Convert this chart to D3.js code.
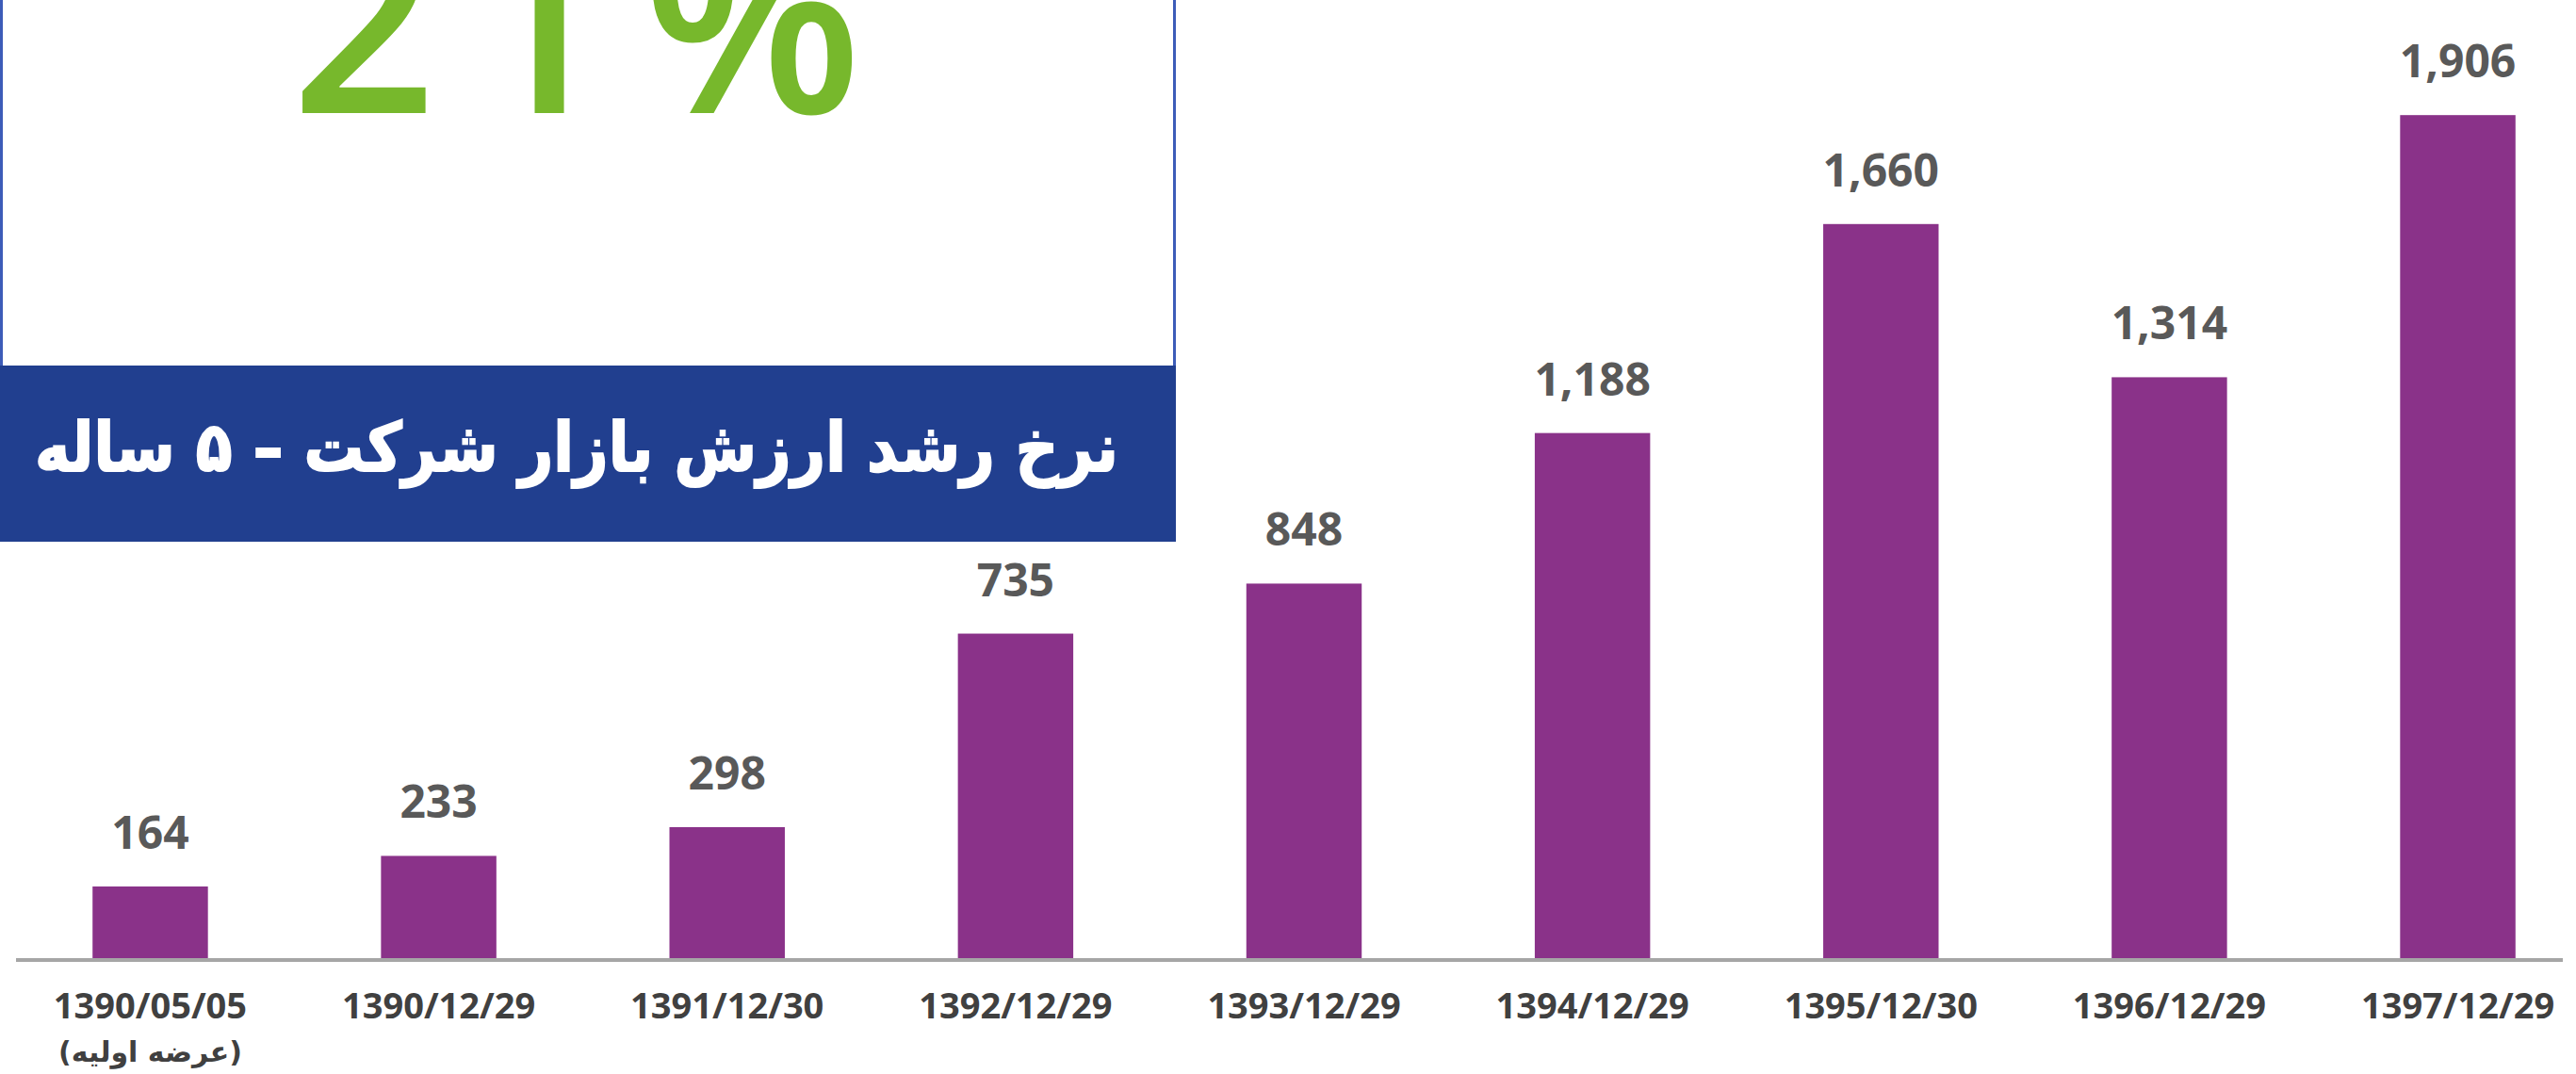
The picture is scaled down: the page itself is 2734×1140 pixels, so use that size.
<!DOCTYPE html>
<html>
<head>
<meta charset="utf-8">
<script src="https://cdn.jsdelivr.net/npm/d3@7"></script>
<style>
  body { margin: 0; background: #fff; }
  svg { display: block; }
</style>
</head>
<body>
<script>
// chart data
var dates = ["1390/05/05", "1390/12/29", "1391/12/30", "1392/12/29", "1393/12/29",
             "1394/12/29", "1395/12/30", "1396/12/29", "1397/12/29"];
var subLabels = ["(عرضه اولیه)", "", "", "", "", "", "", "", ""];
var marketValue = [164, 233, 298, 735, 848, 1188, 1660, 1314, 1906];
var growthRate = "21%";
var bannerTitle = "نرخ رشد ارزش بازار شرکت – ۵ ساله";

var width = 2734, height = 1140;

var svg = d3.select("body").append("svg")
    .attr("width", width)
    .attr("height", height);

var rows = dates.map(function(d, i) {
  return {date: d, sub: subLabels[i], value: marketValue[i]};
});

var x = d3.scaleBand()
    .domain(dates)
    .range([37, 2731])
    .paddingInner(0.6)
    .paddingOuter(0.2);

var y = d3.scaleLinear()
    .domain([0, 2000])
    .range([1018, 78]);

// bars
svg.selectAll("rect.bar")
   .data(rows)
   .enter()
   .append("rect")
   .attr("class", "bar")
   .attr("x", function(d) { return x(d.date); })
   .attr("y", function(d) { return y(d.value); })
   .attr("width", x.bandwidth())
   .attr("height", function(d) { return y(0) - y(d.value); })
   .attr("fill", "#8a3289");

// value labels
svg.selectAll("text.val")
   .data(rows)
   .enter()
   .append("text")
   .attr("class", "val")
   .attr("x", function(d) { return x(d.date) + x.bandwidth() / 2; })
   .attr("y", function(d) { return y(d.value) - 40; })
   .attr("text-anchor", "middle")
   .style("font-family", "'Open Sans', sans-serif")
   .style("font-weight", 700)
   .style("font-size", "48px")
   .style("fill", "#595959")
   .text(function(d) { return d3.format(",")(d.value); });

// x axis
var axis = svg.append("g")
    .attr("transform", "translate(0," + y(0) + ")")
    .call(d3.axisBottom(x).tickSize(0).tickPadding(36));

axis.select(".domain").remove();
axis.selectAll("text")
    .style("font-family", "'Open Sans', sans-serif")
    .style("font-weight", 700)
    .style("font-size", "38px")
    .style("fill", "#404040");

svg.append("line")
   .attr("x1", 17).attr("x2", 2720)
   .attr("y1", y(0) + 1).attr("y2", y(0) + 1)
   .attr("stroke", "#a6a6a6")
   .attr("stroke-width", 4);

svg.selectAll("text.sub")
   .data(rows.filter(function(d) { return d.sub; }))
   .enter()
   .append("text")
   .attr("class", "sub")
   .attr("x", function(d) { return x(d.date) + x.bandwidth() / 2; })
   .attr("y", 1127)
   .attr("text-anchor", "middle")
   .attr("direction", "rtl")
   .style("font-family", "'DejaVu Sans', sans-serif")
   .style("font-weight", 700)
   .style("font-size", "30px")
   .style("fill", "#404040")
   .text(function(d) { return d.sub; });

// growth box, top left
var box = svg.append("g");

box.append("rect")
   .attr("x", 1.5).attr("y", -10)
   .attr("width", 1245).attr("height", 400)
   .attr("fill", "#fff")
   .attr("stroke", "#3d5cb8")
   .attr("stroke-width", 3);

// the big figure runs off the top edge, as in the source picture
box.append("text")
   .attr("x", 628)
   .attr("y", 120)
   .attr("text-anchor", "middle")
   .style("font-family", "'Open Sans', sans-serif")
   .style("font-weight", 600)
   .style("font-size", "270px")
   .style("letter-spacing", "32px")
   .style("fill", "#77b82c")
   .text(growthRate);

box.append("rect")
   .attr("x", 0).attr("y", 388)
   .attr("width", 1248).attr("height", 187)
   .attr("fill", "#213f8f");

var title = box.append("text")
   .attr("y", 500)
   .attr("direction", "rtl")
   .attr("text-anchor", "middle")
   .style("font-family", "'DejaVu Sans', sans-serif")
   .style("font-weight", 700)
   .style("font-size", "72px")
   .style("fill", "#fff")
   .style("stroke", "#fff")
   .style("stroke-width", 2)
   .text(bannerTitle);

// stretch the title to the banner width
var tw = title.node().getComputedTextLength();
var sx = 1150 / tw;
title.attr("transform", "translate(612,0) scale(" + sx + ",1)");
</script>
</body>
</html>
